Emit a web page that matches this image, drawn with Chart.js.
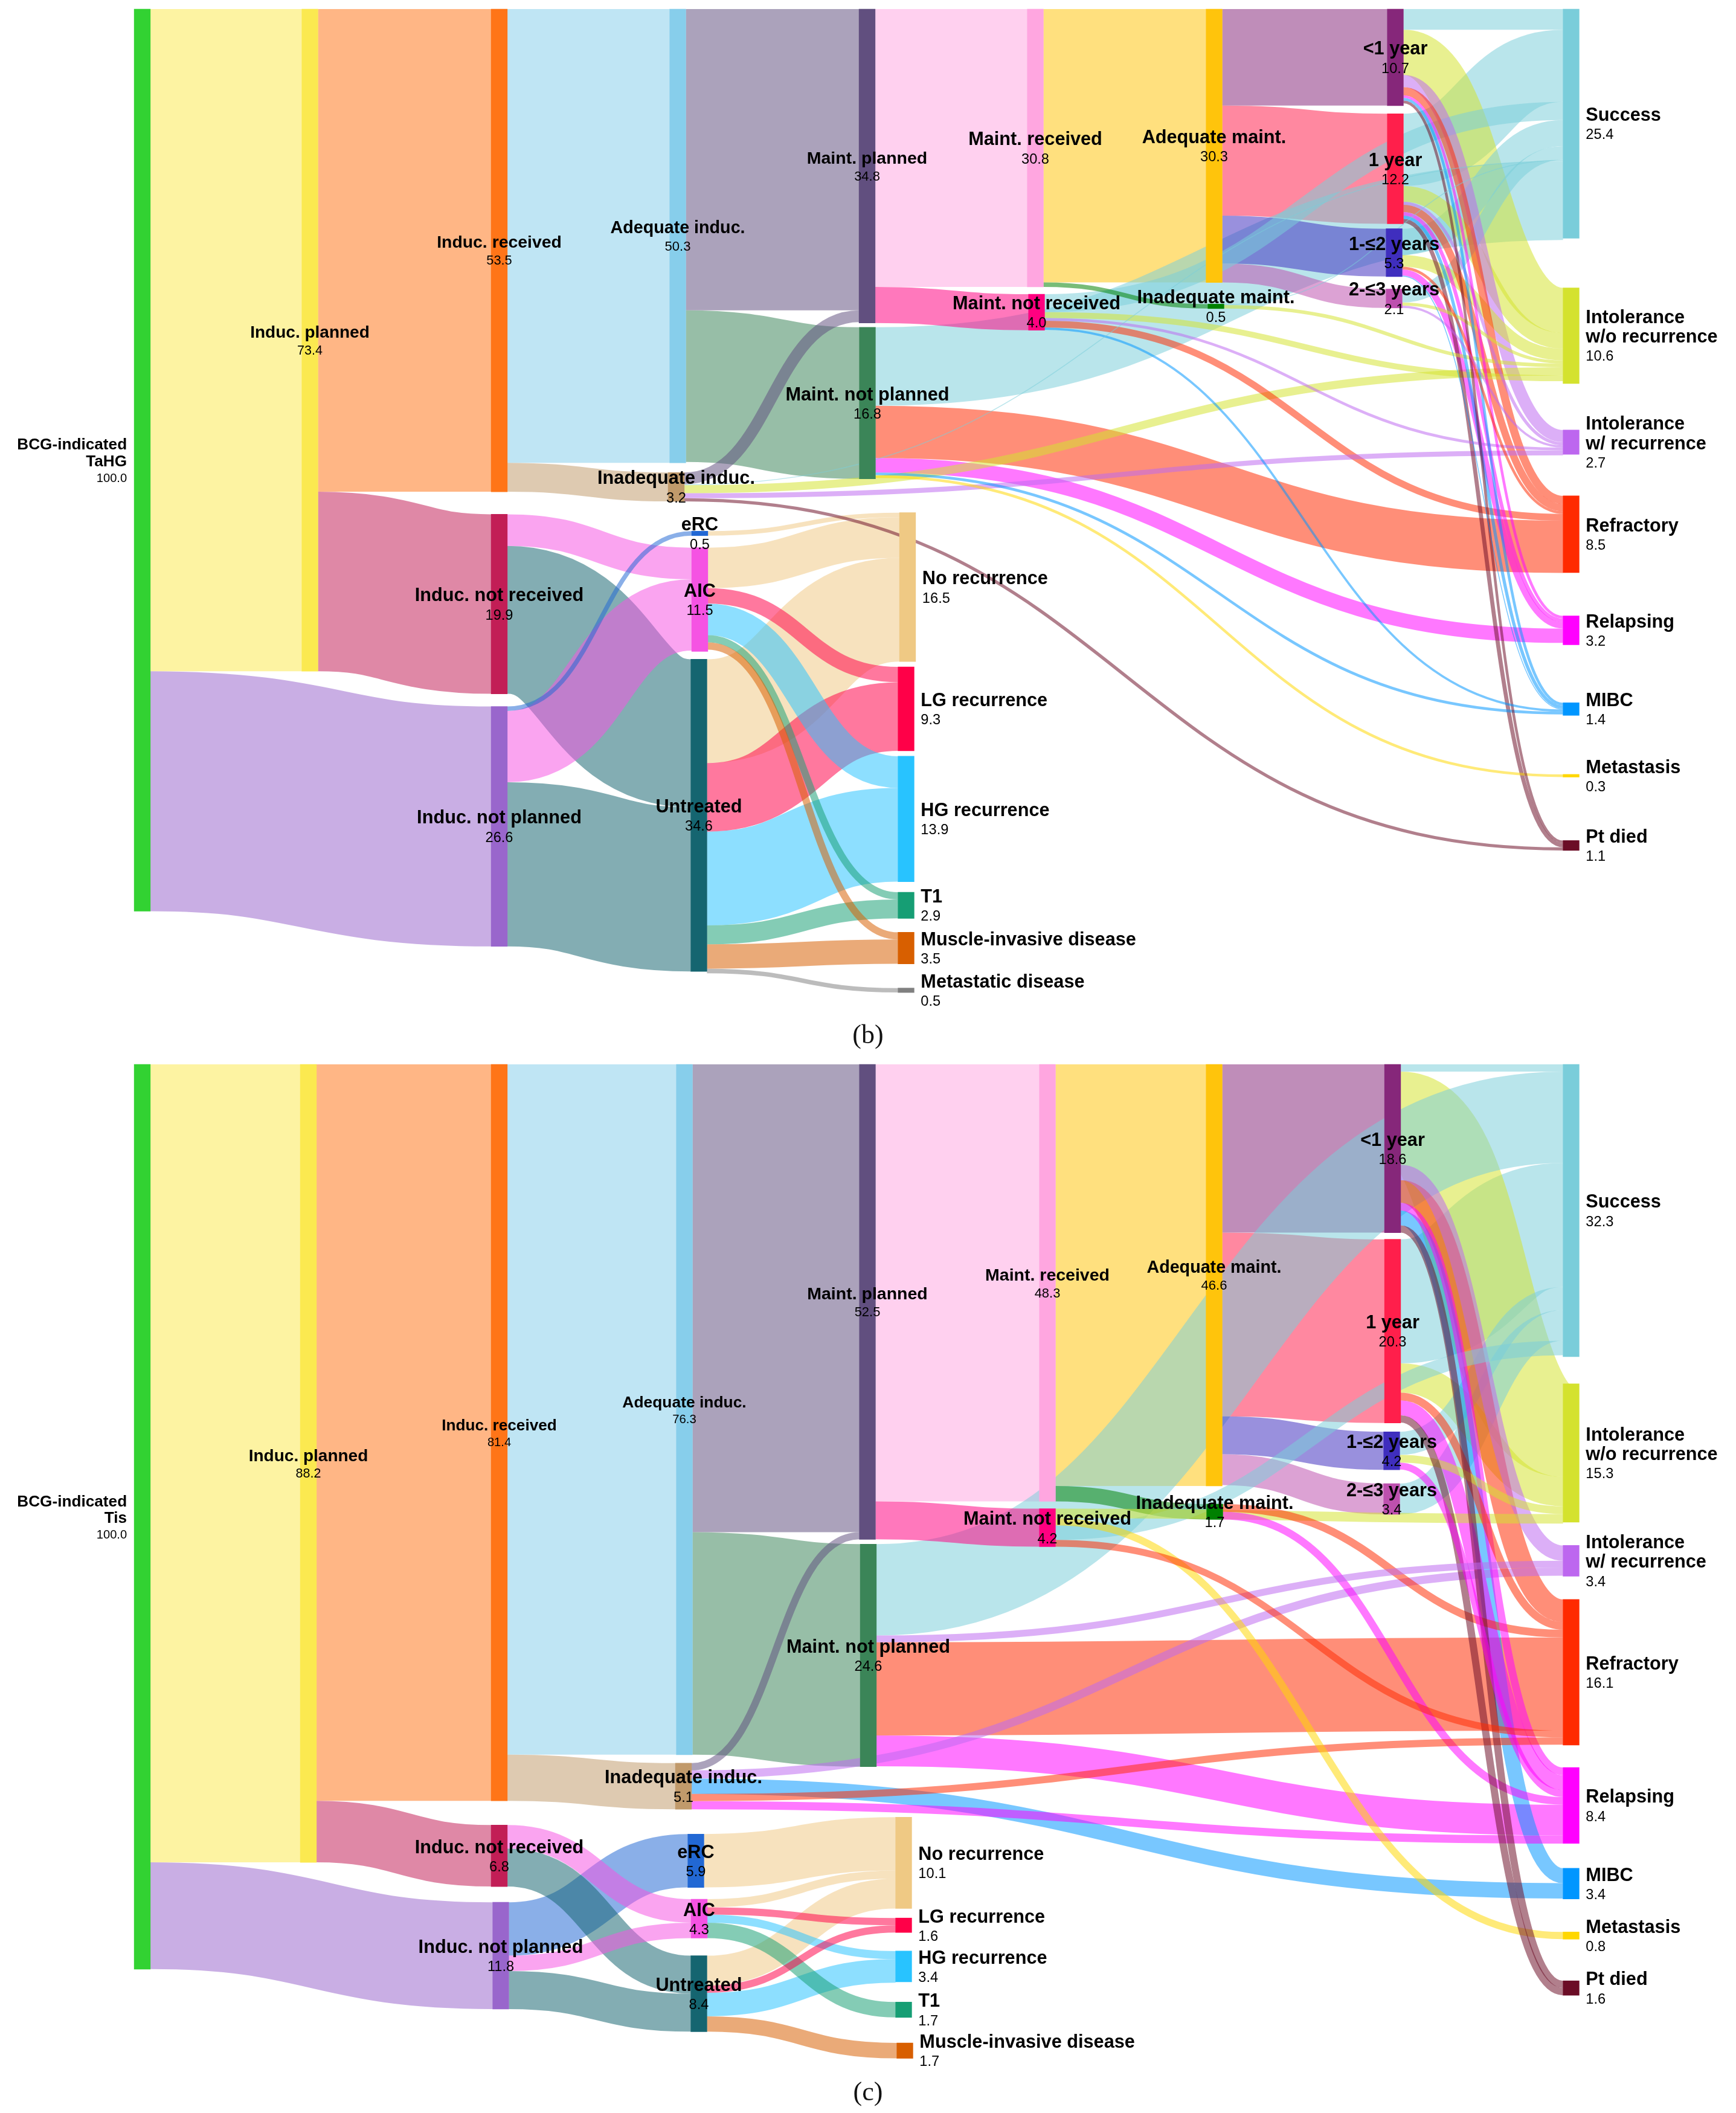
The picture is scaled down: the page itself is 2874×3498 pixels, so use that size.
<!DOCTYPE html>
<html>
<head>
<meta charset="utf-8">
<title>BCG Sankey</title>
<script src="https://cdn.jsdelivr.net/npm/chart.js@4/dist/chart.umd.min.js"></script>
<style>
    html, body { margin: 0; background: #fff; }
    #page { position: relative; width: 2874px; height: 3498px; overflow: hidden; }
    canvas { position: absolute; left: 0; }
    #tahgChart { top: 0; }
    #tisChart { top: 1749px; }
    .cap { position: absolute; left: 1337px; width: 200px; text-align: center; color: #111;
           font: 44px "Liberation Serif", serif; line-height: 50px; }
</style>
</head>
<body>
<div id="page">
    <canvas id="tahgChart" width="2874" height="1749"></canvas>
    <canvas id="tisChart" width="2874" height="1749"></canvas>
    <div class="cap" style="top:1688px">(b)</div>
    <div class="cap" style="top:3438px">(c)</div>
</div>
<script>
const ROOT_B = 'BCG-indicated\nTaHG', ROOT_C = 'BCG-indicated\nTis';
const IP = 'Induc. planned', INP = 'Induc. not planned', IR = 'Induc. received', INR = 'Induc. not received';
const AD = 'Adequate induc.', IN = 'Inadequate induc.', ERC = 'eRC', AIC = 'AIC', UN = 'Untreated';
const MP = 'Maint. planned', MNP = 'Maint. not planned', MR = 'Maint. received', MNR = 'Maint. not received';
const AM = 'Adequate maint.', IM = 'Inadequate maint.';
const Y1 = '<1 year', Y2 = '1 year', Y3 = '1-≤2 years', Y4 = '2-≤3 years';
const SU = 'Success', IWO = 'Intolerance\nw/o recurrence', IW = 'Intolerance\nw/ recurrence';
const RF = 'Refractory', RL = 'Relapsing', MI = 'MIBC', ME = 'Metastasis', PT = 'Pt died';
const NR = 'No recurrence', LG = 'LG recurrence', HG = 'HG recurrence', T1 = 'T1', MU = 'Muscle-invasive disease', MD = 'Metastatic disease';

// panel (b) TaHG
const tahgNames = [ROOT_B, IP, IR, INR, INP, AD, IN, ERC, AIC, UN, MP, MNP, NR, LG, HG, T1, MU, MD, MR, MNR, AM, IM, Y1, Y2, Y3, Y4, SU, IWO, IW, RF, RL, MI, ME, PT];
const tahgValues = [100, 73.4, 53.5, 19.9, 26.6, 50.3, 3.2, 0.5, 11.5, 34.6, 34.8, 16.8, 16.5, 9.3, 13.9, 2.9, 3.5, 0.5, 30.8, 4.0, 30.3, 0.5, 10.7, 12.2, 5.3, 2.1, 25.4, 10.6, 2.7, 8.5, 3.2, 1.4, 0.3, 1.1];
const tahgLinks = [
    [ROOT_B, IP, 73.4], [ROOT_B, INP, 26.6],
    [IP, IR, 53.5], [IP, INR, 19.9],
    [IR, AD, 50.3], [IR, IN, 3.2],
    [INR, AIC, 3.5], [INR, UN, 16.4],
    [INP, ERC, 0.5], [INP, AIC, 7.9], [INP, UN, 18.2],
    [AD, MP, 33.4], [AD, MNP, 16.8],
    [IN, MP, 1.3], [IN, SU, 0.1], [IN, IWO, 0.9], [IN, IW, 0.55], [IN, PT, 0.35],
    [ERC, NR, 0.5],
    [AIC, NR, 4.5], [AIC, LG, 1.7], [AIC, HG, 3.5], [AIC, T1, 0.8], [AIC, MU, 0.8],
    [UN, NR, 11.5], [UN, LG, 7.6], [UN, HG, 10.4], [UN, T1, 2.1], [UN, MU, 2.7], [UN, MD, 0.5],
    [MP, MR, 30.8], [MP, MNR, 4.0],
    [MNP, SU, 8.7], [MNP, RF, 5.8], [MNP, RL, 1.6], [MNP, MI, 0.3], [MNP, ME, 0.3],
    [MR, AM, 30.3], [MR, IM, 0.5],
    [MNR, SU, 2.0], [MNR, IWO, 0.65], [MNR, IW, 0.3], [MNR, RF, 0.75], [MNR, MI, 0.25],
    [AM, Y1, 10.7], [AM, Y2, 12.2], [AM, Y3, 5.3], [AM, Y4, 2.1],
    [IM, SU, 0.1], [IM, IWO, 0.4],
    [Y1, SU, 2.3], [Y1, IWO, 5.0], [Y1, IW, 1.35], [Y1, RF, 0.9], [Y1, RL, 0.3], [Y1, MI, 0.3], [Y1, PT, 0.3],
    [Y2, SU, 8.0], [Y2, IWO, 1.75], [Y2, IW, 0.35], [Y2, RF, 0.8], [Y2, RL, 0.4], [Y2, MI, 0.35], [Y2, PT, 0.45],
    [Y3, SU, 2.9], [Y3, IWO, 1.3], [Y3, RF, 0.3], [Y3, RL, 0.7], [Y3, MI, 0.1],
    [Y4, SU, 1.5], [Y4, IWO, 0.35], [Y4, IW, 0.25]
];
// order in which flows enter a node, top to bottom
const tahgArrivals = {
    [SU]: [Y1, Y2, MNR, Y3, Y4, IM, IN, MNP],
    [IWO]: [Y1, Y2, Y3, Y4, IM, IN, MNR],
    [IW]: [Y1, Y2, Y4, MNR, IN],
    [RF]: [Y1, Y2, Y3, MNR, MNP],
    [RL]: [Y1, Y2, Y3, MNP],
    [MI]: [Y1, Y2, Y3, MNR, MNP],
    [PT]: [Y1, Y2, IN]
};
// horizontal place of each node and white space above it, same order as tahgNames
const tahgX = [235.5, 513, 826.5, 826.5, 826.5, 1122, 1119.5, 1158.5, 1158.5, 1157, 1435.5, 1436, 1502.5, 1500, 1500, 1500, 1500, 1500, 1714, 1716, 2010, 2013, 2310, 2310, 2308, 2308, 2601, 2601, 2601, 2601, 2601, 2601, 2601, 2601];
const tahgGaps = [0, 0, 0, 2.5, 1.4, 0, 1.07, 3.3, 1.33, 0.87, 0, 0.47, 3.75, 0.6, 0.6, 1.17, 1.54, 2.68, 0, 0.8, 0, 2.4, 0, 0.9, 0.55, 1.38, 0, 5.5, 5.16, 4.6, 4.8, 6.43, 6.54, 7.03];
const tahgFonts = { [ROOT_B]: 26.2, [IP]: 28, [IR]: 28.4, [AD]: 28.7, [MP]: 28.5 };

// panel (c) Tis
const tisNames = [ROOT_C, IP, IR, INR, INP, AD, IN, ERC, AIC, UN, MP, MNP, NR, LG, HG, T1, MU, MR, MNR, AM, IM, Y1, Y2, Y3, Y4, SU, IWO, IW, RF, RL, MI, ME, PT];
const tisValues = [100, 88.2, 81.4, 6.8, 11.8, 76.3, 5.1, 5.9, 4.3, 8.4, 52.5, 24.6, 10.1, 1.6, 3.4, 1.7, 1.7, 48.3, 4.2, 46.6, 1.7, 18.6, 20.3, 4.2, 3.4, 32.3, 15.3, 3.4, 16.1, 8.4, 3.4, 0.8, 1.6];
const tisLinks = [
    [ROOT_C, IP, 88.2], [ROOT_C, INP, 11.8],
    [IP, IR, 81.4], [IP, INR, 6.8],
    [IR, AD, 76.3], [IR, IN, 5.1],
    [INR, AIC, 2.6], [INR, UN, 4.2],
    [INP, ERC, 5.9], [INP, AIC, 1.7], [INP, UN, 4.2],
    [AD, MP, 51.7], [AD, MNP, 24.6],
    [IN, MP, 0.8], [IN, IW, 0.9], [IN, MI, 1.7], [IN, RF, 0.8], [IN, RL, 0.9],
    [ERC, NR, 5.9],
    [AIC, NR, 0.9], [AIC, LG, 0.8], [AIC, HG, 0.9], [AIC, T1, 1.7],
    [UN, NR, 3.3], [UN, LG, 0.8], [UN, HG, 2.6], [UN, MU, 1.7],
    [MP, MR, 48.3], [MP, MNR, 4.2],
    [MNP, SU, 10.1], [MNP, IW, 0.75], [MNP, RF, 10.3], [MNP, RL, 3.4],
    [MR, AM, 46.6], [MR, IM, 1.7],
    [MNR, IWO, 1.05], [MNR, ME, 0.8], [MNR, SU, 1.6], [MNR, RF, 0.75],
    [AM, Y1, 18.6], [AM, Y2, 20.3], [AM, Y3, 4.2], [AM, Y4, 3.4],
    [IM, RF, 0.85], [IM, RL, 0.85],
    [Y1, SU, 0.8], [Y1, IWO, 10.3], [Y1, IW, 1.7], [Y1, RF, 2.5], [Y1, RL, 0.85], [Y1, MI, 1.65], [Y1, PT, 0.8],
    [Y2, SU, 13.7], [Y2, IWO, 3.25], [Y2, RF, 0.85], [Y2, RL, 1.65], [Y2, PT, 0.8],
    [Y3, SU, 2.55], [Y3, IWO, 0.85], [Y3, RL, 0.77],
    [Y4, SU, 3.4]
];
const tisArrivals = {
    [SU]: [Y1, MNP, Y2, Y3, Y4, MNR],
    [IWO]: [Y1, Y2, Y3, MNR],
    [IW]: [Y1, MNP, IN],
    [RF]: [Y1, Y2, IM, MNP, MNR, IN],
    [RL]: [Y1, Y2, Y3, IM, MNP, IN],
    [MI]: [Y1, IN],
    [PT]: [Y1, Y2]
};
const tisX = [235.5, 510.5, 826.5, 826.5, 829, 1133, 1131.5, 1152, 1157.5, 1157, 1436, 1437.5, 1496, 1496, 1496, 1496, 1498, 1734, 1734, 2010, 2011, 2305.5, 2305.5, 2304, 2304, 2601, 2601, 2601, 2601, 2601, 2601, 2601, 2601];
const tisGaps = [0, 0, 0, 2.67, 1.74, 0, 0.93, 2.74, 1.3, 1.94, 0, 0.53, 5.57, 1.05, 2.05, 2.24, 2.82, 0, 0.81, 0, 2.0, 0, 0.74, 0.97, 1.53, 0, 3.0, 2.57, 2.57, 2.47, 2.74, 3.64, 4.6];
const tisFonts = { [ROOT_C]: 26.2, [IP]: 28, [IR]: 26.2, [AD]: 26.4, [MP]: 28.5, [MR]: 28.5, [AM]: 28.7 };

const nodeColors = {
    [ROOT_B]: '#32d232', [ROOT_C]: '#32d232', [IP]: '#fbe950', [IR]: '#ff7518', [INR]: '#c21e56', [INP]: '#9966cc',
    [AD]: '#87ceeb', [IN]: '#c19a6b', [ERC]: '#2268d4', [AIC]: '#f553e3', [UN]: '#156570',
    [MP]: '#614f7f', [MNP]: '#3b8558', [MR]: '#ffa6e0', [MNR]: '#ff0080', [AM]: '#ffc40c', [IM]: '#008000',
    [Y1]: '#86277a', [Y2]: '#ff1f4b', [Y3]: '#3f2ebe', [Y4]: '#bd50ae',
    [SU]: '#7acdda', [IWO]: '#d4e22e', [IW]: '#bd67ef', [RF]: '#ff2a00', [RL]: '#ff00ff', [MI]: '#0096ff', [ME]: '#ffd700', [PT]: '#6b0d26',
    [NR]: '#efc984', [LG]: '#ff0048', [HG]: '#28c3ff', [T1]: '#169e74', [MU]: '#d85f00', [MD]: '#808080'
};
const NODE_WIDTH = 26.7;
const LINK_ALPHA = 0.53;
const END_NODES = [NR, LG, HG, T1, MU, MD, SU, IWO, IW, RF, RL, MI, ME, PT];

function stackTops(names, values, gaps) {
    // nodes stack down their column, a new column starts where the gap is 0
    const tops = [];
    let y = 0;
    names.forEach((n, i) => {
        if (gaps[i] === 0) y = 0;
        y += gaps[i];
        tops.push(y);
        y += values[i];
    });
    return tops;
}

function sankeyPlugin(p) {
    const idx = {};
    p.names.forEach((n, i) => { idx[n] = i; });
    return {
        id: 'sankey',
        beforeDatasetsDraw(chart) {
            const ctx = chart.ctx, sx = chart.scales.x, sy = chart.scales.y;
            // running offsets for the flows leaving and entering every node
            const outStart = new Map(), inStart = new Map();
            const outUsed = {};
            const incoming = {};
            p.links.forEach(l => {
                outStart.set(l, outUsed[l[0]] || 0);
                outUsed[l[0]] = (outUsed[l[0]] || 0) + l[2];
                (incoming[l[1]] = incoming[l[1]] || []).push(l);
            });
            Object.keys(incoming).forEach(t => {
                const order = p.arrivals[t];
                if (order) incoming[t].sort((a, b) => order.indexOf(a[0]) - order.indexOf(b[0]));
                let off = 0;
                incoming[t].forEach(l => { inStart.set(l, off); off += l[2]; });
            });
            ctx.save();
            ctx.globalAlpha = LINK_ALPHA;
            ctx.lineCap = 'butt';
            // biggest flows first so the thin ones stay on top
            [...p.links].sort((a, b) => b[2] - a[2]).forEach(l => {
                const s = idx[l[0]], t = idx[l[1]];
                const x0 = sx.getPixelForValue(p.x[s] + NODE_WIDTH / 2);
                const x1 = sx.getPixelForValue(p.x[t] - NODE_WIDTH / 2);
                const y0 = sy.getPixelForValue(p.tops[s] + outStart.get(l) + l[2] / 2);
                const y1 = sy.getPixelForValue(p.tops[t] + inStart.get(l) + l[2] / 2);
                const xm = (x0 + x1) / 2;
                ctx.beginPath();
                ctx.moveTo(x0, y0);
                ctx.bezierCurveTo(xm, y0, xm, y1, x1, y1);
                ctx.lineWidth = Math.abs(sy.getPixelForValue(l[2]) - sy.getPixelForValue(0));
                ctx.strokeStyle = nodeColors[l[1]];
                ctx.stroke();
            });
            ctx.restore();
        },
        afterDatasetsDraw(chart) {
            const ctx = chart.ctx, sx = chart.scales.x, sy = chart.scales.y;
            ctx.save();
            ctx.fillStyle = '#000';
            ctx.textBaseline = 'middle';
            p.names.forEach((name, i) => {
                const size = p.fonts[name] || 30.7;
                const lines = name.split('\n');
                const lh = size * 1.05;
                const mid = sy.getPixelForValue(p.tops[i] + p.values[i] / 2) + 3;
                let x = sx.getPixelForValue(p.x[i]);
                ctx.textAlign = 'center';
                if (i === 0) { x -= NODE_WIDTH / 2 + 12; ctx.textAlign = 'right'; }
                else if (END_NODES.includes(name)) { x += NODE_WIDTH / 2 + 11; ctx.textAlign = 'left'; }
                // names and value form one block centred on the node
                let y = mid - lh * (lines.length + 1) / 2 + lh / 2;
                ctx.font = 'bold ' + size + 'px "Liberation Sans"';
                lines.forEach(t => { ctx.fillText(t, x, y); y += lh; });
                ctx.font = (size * 0.77) + 'px "Liberation Sans"';
                ctx.fillText(p.values[i].toFixed(1), x, y);
            });
            ctx.restore();
        }
    };
}

function drawSankey(canvasId, p, yMin, yMax) {
    p.tops = stackTops(p.names, p.values, p.gaps);
    new Chart(document.getElementById(canvasId), {
        type: 'bar',
        data: {
            datasets: [{
                data: p.names.map((n, i) => ({ x: p.x[i], y: [p.tops[i], p.tops[i] + p.values[i]] })),
                backgroundColor: p.names.map(n => nodeColors[n]),
                barThickness: NODE_WIDTH,
                borderWidth: 0,
                borderSkipped: false
            }]
        },
        options: {
            responsive: false,
            animation: false,
            layout: { padding: 0 },
            plugins: { legend: { display: false }, tooltip: { enabled: false }, title: { display: false } },
            scales: {
                x: { type: 'linear', min: 0, max: 2874, offset: false, display: false },
                y: { type: 'linear', reverse: true, min: yMin, max: yMax, display: false }
            }
        },
        plugins: [sankeyPlugin(p)]
    });
}

drawSankey('tahgChart', { names: tahgNames, values: tahgValues, links: tahgLinks, arrivals: tahgArrivals, x: tahgX, gaps: tahgGaps, fonts: tahgFonts }, -1.005, 116.1);
drawSankey('tisChart', { names: tisNames, values: tisValues, links: tisLinks, arrivals: tisArrivals, x: tisX, gaps: tisGaps, fonts: tisFonts }, -0.868, 115.9);
</script>
</body>
</html>
